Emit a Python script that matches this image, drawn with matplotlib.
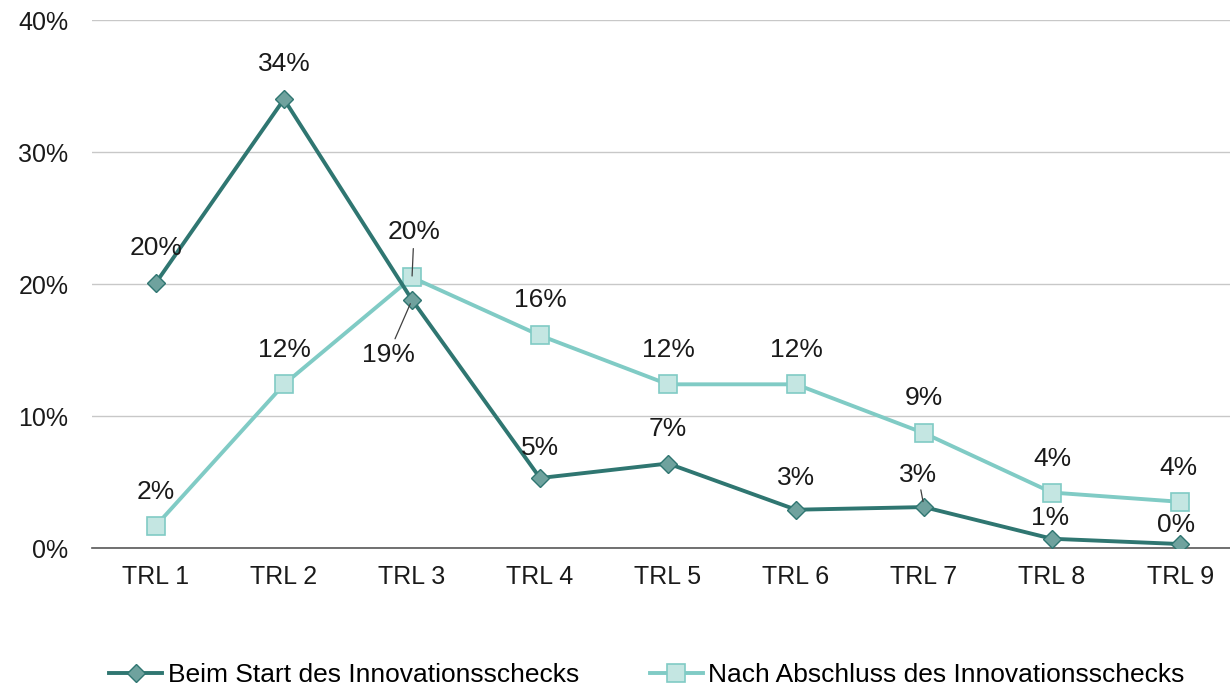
import numpy as np
import matplotlib.pyplot as plt
from matplotlib.ticker import FuncFormatter

plt.rcParams['font.family'] = ['Liberation Sans', 'DejaVu Sans']

# Daten
kategorien = ['TRL 1', 'TRL 2', 'TRL 3', 'TRL 4', 'TRL 5', 'TRL 6', 'TRL 7', 'TRL 8', 'TRL 9']
start = [0.201, 0.340, 0.188, 0.053, 0.064, 0.029, 0.031, 0.007, 0.003]
abschluss = [0.017, 0.124, 0.205, 0.161, 0.124, 0.124, 0.087, 0.042, 0.035]
start_labels = ['20%', '34%', '19%', '5%', '7%', '3%', '3%', '1%', '0%']
abschluss_labels = ['2%', '12%', '20%', '16%', '12%', '12%', '9%', '4%', '4%']

dunkel = '#2f7671'
hell = '#80cbc5'

fig = plt.figure(figsize=(12.3, 6.9), dpi=100)
ax = fig.add_axes([92 / 1230, (690 - 548) / 690, 1 - 92 / 1230, (548 - 20) / 690])

x = np.arange(len(kategorien))
ax.plot(x, start, color=dunkel, lw=2.8, marker='D', ms=9.5, mfc='#6fa29e', mec=dunkel,
        mew=1, label='Beim Start des Innovationsschecks', zorder=4)
ax.plot(x, abschluss, color=hell, lw=2.8, marker='s', ms=13, mfc='#c4e6e2', mec=hell,
        mew=1.2, label='Nach Abschluss des Innovationsschecks', zorder=3)

# Beschriftungen (Versatz in Pixeln)
off_start = [(0, 35), (0, 35), (-24, -55), (0, 30), (0, 35), (0, 32), (-6, 32), (-2, 21), (-4, 19)]
off_abschluss = [(0, 34), (0, 34), (2, 45), (0, 35), (0, 34), (0, 34), (0, 35), (0, 34), (-2, 34)]
fs = 19
for i, (v, t) in enumerate(zip(start, start_labels)):
    dx, dy = off_start[i]
    ap = None
    if i == 2:
        ap = dict(arrowstyle='-', color='#404040', lw=0.9, shrinkA=1, shrinkB=3)
    if i == 6:
        ap = dict(arrowstyle='-', color='#404040', lw=0.9, shrinkA=0, shrinkB=4)
    ax.annotate(t, (x[i], v), xytext=(dx, dy), textcoords='offset pixels',
                ha='center', va='center', fontsize=fs, color='#1a1a1a',
                arrowprops=ap, zorder=6)
for i, (v, t) in enumerate(zip(abschluss, abschluss_labels)):
    dx, dy = off_abschluss[i]
    ap = None
    if i == 2:
        ap = dict(arrowstyle='-', color='#404040', lw=0.9, shrinkA=1, shrinkB=1)
    ax.annotate(t, (x[i], v), xytext=(dx, dy), textcoords='offset pixels',
                ha='center', va='center', fontsize=fs, color='#1a1a1a',
                arrowprops=ap, zorder=6)

ax.set_xlim(-0.5, 8.39)
ax.set_ylim(0, 0.4)
ax.set_yticks([0, 0.1, 0.2, 0.3, 0.4])
ax.yaxis.set_major_formatter(FuncFormatter(lambda v, p: f'{v * 100:.0f}%'))
ax.set_xticks(x)
ax.set_xticklabels(kategorien)
ax.tick_params(axis='both', length=0, labelsize=18, colors='#1a1a1a')
ax.tick_params(axis='x', pad=12)
ax.tick_params(axis='y', pad=17)
ax.grid(axis='y', color='#c8c8c8', lw=1)
ax.set_axisbelow(True)
for s in ['left', 'right', 'top']:
    ax.spines[s].set_visible(False)
ax.spines['bottom'].set_color('#595959')
ax.spines['bottom'].set_linewidth(1.2)
ax.spines['bottom'].set_zorder(2)

fig.legend(loc='lower center', bbox_to_anchor=(0.526, -0.03), ncol=2, frameon=False,
           fontsize=19, handlelength=2.0, handletextpad=0.2, columnspacing=2.7)

fig.savefig('out.png', dpi=100)
